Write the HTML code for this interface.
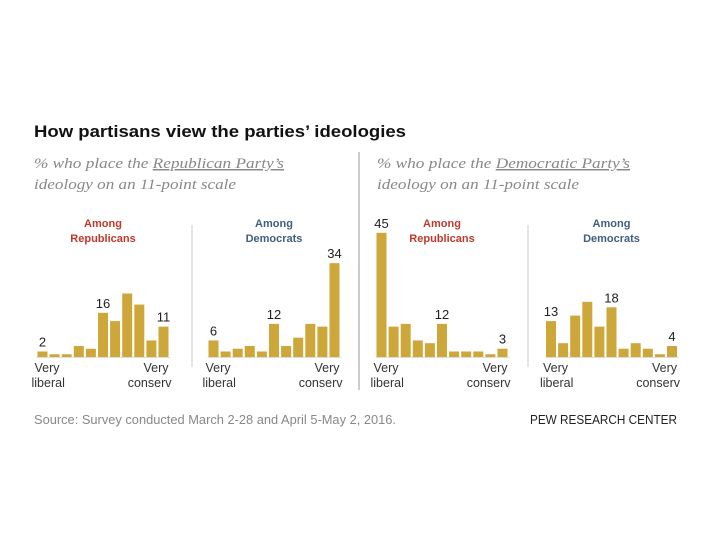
<!DOCTYPE html>
<html><head><meta charset="utf-8"><style>
html,body{margin:0;padding:0;background:#fff;}
svg{display:block;}
</style></head><body>
<svg id="chart" width="720" height="540" viewBox="0 0 720 540" xmlns="http://www.w3.org/2000/svg">
<text x="34" y="137" font-family="Liberation Sans, sans-serif" font-weight="bold" font-size="17" fill="#111" textLength="372" lengthAdjust="spacingAndGlyphs">How partisans view the parties’ ideologies</text>
<g font-family="Liberation Serif, serif" font-style="italic" font-size="15" fill="#888">
<text x="34" y="168" textLength="250" lengthAdjust="spacingAndGlyphs">% who place the <tspan text-decoration="underline">Republican Party’s</tspan></text>
<text x="34" y="189" textLength="202" lengthAdjust="spacingAndGlyphs">ideology on an 11-point scale</text>
<text x="377" y="168" textLength="253" lengthAdjust="spacingAndGlyphs">% who place the <tspan text-decoration="underline">Democratic Party’s</tspan></text>
<text x="377" y="189" textLength="202" lengthAdjust="spacingAndGlyphs">ideology on an 11-point scale</text>
</g>
<line x1="359" y1="152" x2="359" y2="390" stroke="#bbb" stroke-width="1.5"/>
<g id="panels"></g>
<text x="34" y="424" font-family="Liberation Sans, sans-serif" font-size="12.5" fill="#888" textLength="362" lengthAdjust="spacingAndGlyphs">Source: Survey conducted March 2-28 and April 5-May 2, 2016.</text>
<text x="530" y="424" font-family="Liberation Sans, sans-serif" font-size="12.5" fill="#222" textLength="147" lengthAdjust="spacingAndGlyphs">PEW RESEARCH CENTER</text>
</svg>
<script>
const repOfRep = [2,1,1,4,3,16,13,23,19,6,11];
const repOfDem = [6,2,3,4,2,12,4,7,12,11,34];
const demOfRep = [45,11,12,6,5,12,2,2,2,1,3];
const demOfDem = [13,5,15,20,11,18,3,5,3,1,4];
const labeledIdx1 = [0,5,10];
const labeledIdx2 = [0,5,10];
const labeledIdx3 = [0,5,10];
const labeledIdx4 = [0,5,10];
const groupTitles = ['Republicans','Democrats','Republicans','Democrats'];

const NS='http://www.w3.org/2000/svg';
const root=document.getElementById('panels');
const baseY=357, unit=2.76, pitch=12.1, barW=10;
function yScale(v){return baseY - v*unit;}
function mk(tag,attrs,parent){const e=document.createElementNS(NS,tag);for(const k in attrs)e.setAttribute(k,attrs[k]);parent.appendChild(e);return e;}
const panels=[
 {data:repOfRep,lab:labeledIdx1,x0:37.5,title:groupTitles[0],name:'rep-party-among-rep'},
 {data:repOfDem,lab:labeledIdx2,x0:208.5,title:groupTitles[1],name:'rep-party-among-dem'},
 {data:demOfRep,lab:labeledIdx3,x0:376.5,title:groupTitles[2],name:'dem-party-among-rep'},
 {data:demOfDem,lab:labeledIdx4,x0:546,title:groupTitles[3],name:'dem-party-among-dem'}
];
panels.forEach((p,pi)=>{
  const g=mk('g',{},root);
  
  
  const xs=i=>p.x0+i*pitch;
  const cx=p.x0+(10*pitch+barW)/2;
  const col=p.title==='Republicans'?'#c0392b':'#3f5f7f';
  const t1=mk('text',{x:cx,y:227,'text-anchor':'middle','font-family':'Liberation Sans, sans-serif','font-weight':'bold','font-size':'11',fill:col},g);
  t1.textContent='Among';
  
  
  const t2=mk('text',{x:cx,y:242,'text-anchor':'middle','font-family':'Liberation Sans, sans-serif','font-weight':'bold','font-size':'11',fill:col},g);
  t2.textContent=p.title;
  
  
  const ax=mk('line',{x1:p.x0-1,y1:baseY+0.5,x2:xs(10)+barW+2,y2:baseY+0.5,stroke:'#ddd','stroke-width':1},g);
  
  
  p.data.forEach((v,i)=>{
    const r=mk('rect',{x:xs(i),y:yScale(v),width:barW,height:v*unit,fill:'#cda739'},g);
    
    
    if(p.lab.includes(i)){
      const lt=mk('text',{x:xs(i)+barW/2,y:yScale(v)-5,'text-anchor':'middle','font-family':'Liberation Sans, sans-serif','font-size':'13',fill:'#222'},g);
      lt.textContent=String(v);
      
      
    }
  });
  const lab=[['Very',p.x0-3,372,'start'],['liberal',p.x0-6,387,'start'],['Very',xs(10)+barW,372,'end'],['conserv',xs(10)+barW+3,387,'end']];
  lab.forEach((l,k)=>{
    const e=mk('text',{x:l[1],y:l[2],'text-anchor':l[3],'font-family':'Liberation Sans, sans-serif','font-size':'12.5',fill:'#333'},g);
    e.textContent=l[0];
    
    
  });
  if(pi===0||pi===2){
    const dx=pi===0?192:528;
    const d=mk('line',{x1:dx,y1:225,x2:dx,y2:367,stroke:'#ccc','stroke-width':1},g);
    
    
  }
});
</script>
</body></html>
